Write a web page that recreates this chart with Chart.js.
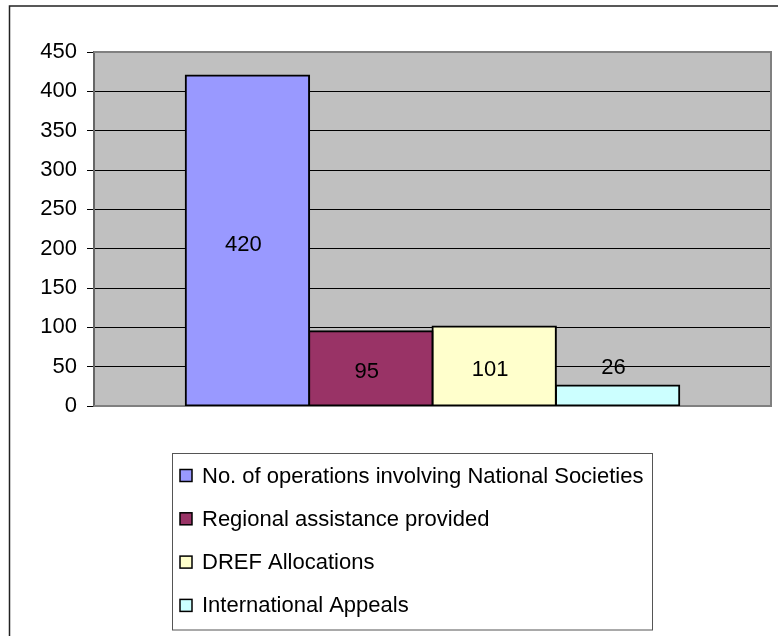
<!DOCTYPE html>
<html>
<head>
<meta charset="utf-8">
<script src="https://cdn.jsdelivr.net/npm/chart.js@4.4.1/dist/chart.umd.min.js"></script>
<style>
  body { margin: 0; background: #fff; }
  #wrap { position: relative; width: 778px; height: 636px; }
</style>
</head>
<body>
<div id="wrap"><canvas id="opsChart" width="778" height="636"></canvas></div>
<script>
const categories = [''];
const seriesNames = [
  'No. of operations involving National Societies',
  'Regional assistance provided',
  'DREF Allocations',
  'International Appeals'
];
const seriesValues = [420, 95, 101, 26];
const seriesColors = ['#9999FF', '#993366', '#FFFFCC', '#CCFFFF'];
const yTicks = [0, 50, 100, 150, 200, 250, 300, 350, 400, 450];

const FONT = '"Liberation Sans", Arial, sans-serif';

// page frame + grey plot area
const backdrop = {
  id: 'backdrop',
  beforeDraw(chart) {
    const { ctx, chartArea: a } = chart;
    ctx.save();
    ctx.fillStyle = '#fff';
    ctx.fillRect(0, 0, chart.width, chart.height);
    ctx.strokeStyle = '#222';
    ctx.lineWidth = 1.5;
    ctx.beginPath();
    ctx.moveTo(9.5, 636);
    ctx.lineTo(9.5, 6);
    ctx.lineTo(778, 6);
    ctx.stroke();
    ctx.fillStyle = '#C0C0C0';
    ctx.fillRect(a.left, a.top, a.right - a.left, a.bottom - a.top);
    ctx.restore();
  },
  beforeDatasetsDraw(chart) {
    const { ctx, chartArea: a } = chart;
    ctx.save();
    ctx.strokeStyle = '#808080';
    ctx.lineWidth = 2;
    ctx.beginPath();
    ctx.moveTo(a.left, a.top);
    ctx.lineTo(a.right, a.top);
    ctx.lineTo(a.right, a.bottom);
    ctx.lineTo(a.left, a.bottom);
    ctx.stroke();
    ctx.restore();
  }
};

// value labels, centred in the bar (above it when the bar is short)
const valueLabels = {
  id: 'valueLabels',
  afterDatasetsDraw(chart) {
    const { ctx } = chart;
    ctx.save();
    ctx.font = '22px ' + FONT;
    ctx.fillStyle = '#000';
    ctx.textAlign = 'center';
    ctx.textBaseline = 'middle';
    chart.data.datasets.forEach((ds, i) => {
      const bar = chart.getDatasetMeta(i).data[0];
      const h = bar.base - bar.y;
      const y = h < 40 ? bar.y - 18 : (bar.y + bar.base) / 2 + 4;
      ctx.fillText(String(ds.data[0]), bar.x - 4, y);
    });
    ctx.restore();
  }
};

// boxed legend below the plot, one series per row
const boxLegend = {
  id: 'boxLegend',
  afterDraw(chart) {
    const { ctx } = chart;
    const box = { x: 172, y: 453.5, w: 480, h: 176.5 };
    ctx.save();
    ctx.strokeStyle = '#555';
    ctx.lineWidth = 1;
    ctx.strokeRect(box.x + 0.5, box.y, box.w, box.h);
    ctx.font = '22px ' + FONT;
    ctx.textBaseline = 'middle';
    chart.data.datasets.forEach((ds, i) => {
      const cy = 475.5 + i * 43.3;
      ctx.fillStyle = ds.backgroundColor;
      ctx.fillRect(180, cy - 6, 12, 12);
      ctx.strokeStyle = '#000';
      ctx.lineWidth = 1.5;
      ctx.strokeRect(180, cy - 6, 12, 12);
      ctx.fillStyle = '#000';
      ctx.fillText(ds.label, 202, cy + 1);
    });
    ctx.restore();
  }
};

const ctx = document.getElementById('opsChart').getContext('2d');
const chart = new Chart(ctx, {
  type: 'bar',
  data: {
    labels: categories,
    datasets: seriesNames.map((name, i) => ({
      label: name,
      data: [seriesValues[i]],
      backgroundColor: seriesColors[i],
      borderColor: '#000',
      borderWidth: 2,
      borderSkipped: false,
      inflateAmount: 1
    }))
  },
  options: {
    responsive: false,
    animation: false,
    devicePixelRatio: 1,
    layout: { padding: { top: 52, right: 7, bottom: 230, left: 0 } },
    categoryPercentage: 0.729,
    barPercentage: 1,
    scales: {
      x: { display: false },
      y: {
        min: 0,
        max: 450,
        afterFit(s) { s.width = 94; },
        afterBuildTicks(s) { s.ticks = yTicks.map(v => ({ value: v })); },
        ticks: {
          color: '#000',
          padding: 10,
          font: { family: FONT, size: 22 }
        },
        grid: {
          color: '#000',
          lineWidth: 1,
          tickLength: 7,
          drawOnChartArea: true
        },
        border: { color: '#666', width: 2 }
      }
    },
    plugins: {
      legend: { display: false },
      tooltip: { enabled: false }
    }
  },
  plugins: [backdrop, valueLabels, boxLegend]
});
</script>
</body>
</html>
